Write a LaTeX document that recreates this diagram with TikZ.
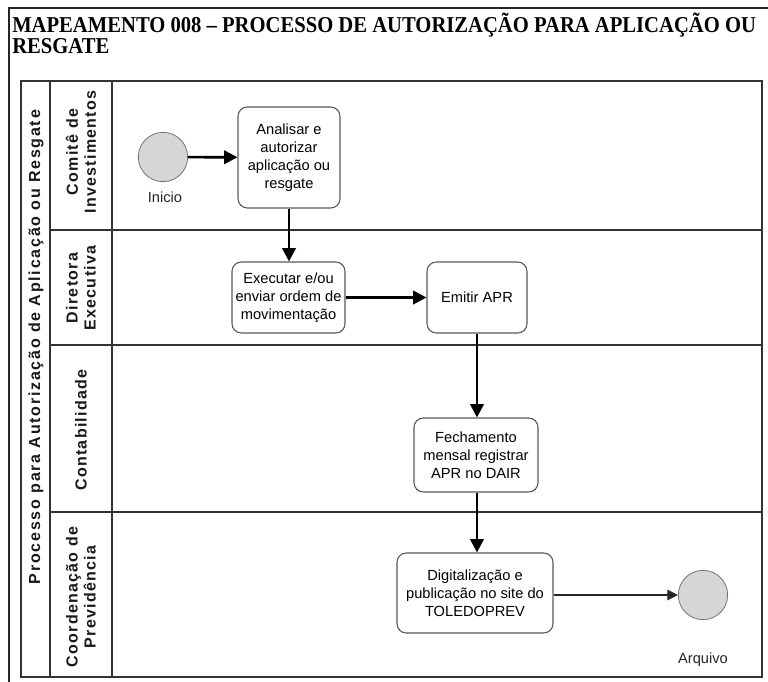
\documentclass[tikz,border=0pt]{standalone}
\usepackage{fontspec}
\setmainfont{Liberation Serif}
\setsansfont{Liberation Sans}
\newfontfamily\titlefont[FakeStretch=0.91]{Liberation Serif}
\usetikzlibrary{arrows.meta}
\begin{document}
\begin{tikzpicture}[x=0.75pt,y=-0.75pt,
  frameline/.style={line width=1.6pt,black!85},
  poolline/.style={line width=1.1pt,black!80},
  task/.style={draw=black!65,line width=0.8pt,fill=white,rounded corners=7pt,align=center,
    font=\sffamily\fontsize{11}{13.5}\selectfont,inner sep=1pt},
  evt/.style={circle,draw=black!55,line width=0.6pt,fill=black!16,minimum size=37pt,inner sep=0pt},
  lanelabel/.style={rotate=90,align=center,font=\sffamily\bfseries\fontsize{12}{13.5}\selectfont,text=black!90},
  titletext/.style={anchor=base west,inner sep=0,font=\titlefont\bfseries\fontsize{17}{17}\selectfont},
  flow/.style={line width=2pt,black,-{Triangle[length=10pt,width=10pt]}},
  thinflow/.style={line width=0.9pt,black!85,-{Triangle[length=8pt,width=8pt]}},
  lbl/.style={font=\sffamily\fontsize{11}{13}\selectfont,text=black!85}]
\useasboundingbox (0,0) rectangle (768,682);
\clip (0,0) rectangle (768,682);
% outer frame
\draw[frameline] (9,682) -- (9,8) -- (768,8);
% title
\node[titletext] (t1) at (12,32)
  {MAPEAMENTO 008 – PROCESSO DE AUTORIZAÇÃO PARA APLICAÇÃO OU};
\node[titletext] (t2) at (12,53) {RESGATE};
% pool
\draw[poolline] (21,81) rectangle (762,677);
\draw[poolline] (50,81) -- (50,677);
\draw[poolline] (112,81) -- (112,677);
\draw[poolline] (50,230) -- (762,230);
\draw[poolline] (50,345) -- (762,345);
\draw[poolline] (50,512) -- (762,512);
\node[lanelabel] (pool) at (36,347)
  {\addfontfeatures{LetterSpace=11}Processo para Autorização de Aplicação ou Resgate};
\node[lanelabel] (l1) at (81,152) {\addfontfeatures{LetterSpace=8}Comitê de\\\addfontfeatures{LetterSpace=8}Investimentos};
\node[lanelabel] (l2) at (81,288) {\addfontfeatures{LetterSpace=8}Diretora\\\addfontfeatures{LetterSpace=8}Executiva};
\node[lanelabel] (l3) at (81,430) {\addfontfeatures{LetterSpace=8}Contabilidade};
\node[lanelabel] (l4) at (81,597) {\addfontfeatures{LetterSpace=8}Coordenação de\\\addfontfeatures{LetterSpace=8}Previdência};
% events
\node[evt] (start) at (163,157) {};
\node[lbl,anchor=center] (startl) at (165,197) {Inicio};
\node[evt] (end) at (703,595) {};
\node[lbl,anchor=center] (endl) at (703,660) {Arquivo};
% tasks
\node[task,minimum width=76.5pt,minimum height=75.75pt] (ana) at (289,157.5)
  {Analisar e\\autorizar\\aplicação ou\\resgate};
\node[task,minimum width=84.75pt,minimum height=53.25pt] (exe) at (288.5,297.5)
  {Executar e/ou\\enviar ordem de\\movimentação};
\node[task,minimum width=75pt,minimum height=53.25pt] (emi) at (477,297.5)
  {Emitir APR};
\node[task,minimum width=93pt,minimum height=55.5pt] (fec) at (476,455)
  {Fechamento\\mensal registrar\\APR no DAIR};
\node[task,minimum width=117pt,minimum height=60pt] (dig) at (475,593)
  {Digitalização e\\publicação no site do\\TOLEDOPREV};
% flows
\draw[flow] (start) -- (ana);
\draw[flow] (ana.south) -- (ana.south |- exe.north);
\draw[flow] (exe.east |- emi.west) -- (emi.west);
\draw[flow] (emi.south) -- (emi.south |- fec.north);
\draw[flow] (emi.south |- fec.south) -- (emi.south |- dig.north);
\draw[thinflow] (dig.east |- end.west) -- (end.west);
\end{tikzpicture}
\end{document}
